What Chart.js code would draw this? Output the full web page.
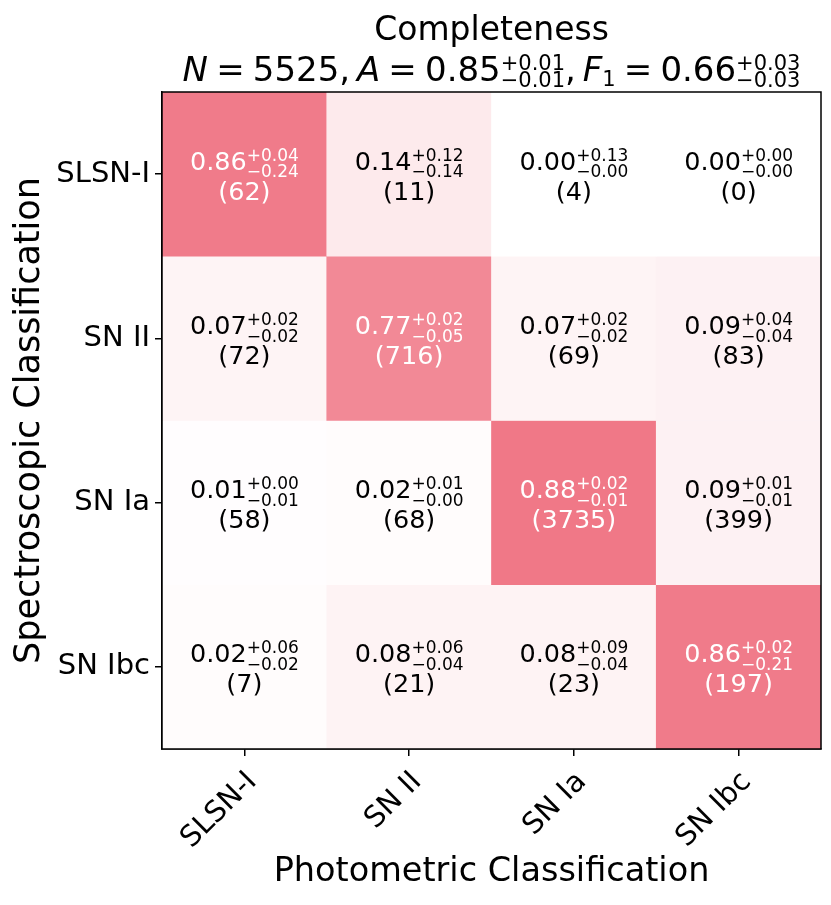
<!DOCTYPE html>
<html>
<head>
<meta charset="utf-8">
<script src="https://cdn.jsdelivr.net/npm/chart.js@4.4.0/dist/chart.umd.min.js"></script>
<style>
  html, body { margin: 0; padding: 0; background: #fff; }
  canvas { display: block; }
</style>
</head>
<body>
<canvas id="cm" width="831" height="905"></canvas>
<script>
// columns = photometric class, rows = spectroscopic class
const photLabels = ["SLSN-I", "SN II", "SN Ia", "SN Ibc"];
const specLabels = ["SLSN-I", "SN II", "SN Ia", "SN Ibc"];

const fractions = [
  [0.86, 0.14, 0.00, 0.00],
  [0.07, 0.77, 0.07, 0.09],
  [0.01, 0.02, 0.88, 0.09],
  [0.02, 0.08, 0.08, 0.86]
];
const errUp = [
  [0.04, 0.12, 0.13, 0.00],
  [0.02, 0.02, 0.02, 0.04],
  [0.00, 0.01, 0.02, 0.01],
  [0.06, 0.06, 0.09, 0.02]
];
const errLow = [
  [0.24, 0.14, 0.00, 0.00],
  [0.02, 0.05, 0.02, 0.04],
  [0.01, 0.00, 0.01, 0.01],
  [0.02, 0.04, 0.04, 0.21]
];
const counts = [
  [62, 11, 4, 0],
  [72, 716, 69, 83],
  [58, 68, 3735, 399],
  [7, 21, 23, 197]
];

const titleText = "Completeness";
const nTotal = 5525;
const accuracy = [0.85, 0.01, 0.01];   // value, +err, -err
const f1Score = [0.66, 0.03, 0.03];

const FONT = "'DejaVu Sans', sans-serif";
Chart.defaults.font.family = FONT;

function cellColor(v) {
  const hi = [238, 102, 119];
  const c = hi.map((h) => Math.round(255 + (h - 255) * v));
  return `rgb(${c[0]},${c[1]},${c[2]})`;
}

const minus = (v) => "\u2212" + v.toFixed(2);
const plus = (v) => "+" + v.toFixed(2);

// text pieces with stacked super/subscripts, centred on cx
// opts: size, script size, sup offset, sub offset (px from baseline)
function drawMath(ctx, cx, base, o, parts) {
  const font = (s, it) => (it ? "italic " : "") + s + "px " + FONT;
  let total = 0;
  const widths = parts.map((p) => {
    ctx.font = font(o.size, p.italic);
    const w = ctx.measureText(p.text).width;
    ctx.font = font(o.script, false);
    const sw = Math.max(
      p.sup ? ctx.measureText(p.sup).width : 0,
      p.sub ? ctx.measureText(p.sub).width : 0
    );
    const gap = (p.gap || 0) * o.size;
    total += w + sw + gap;
    return [w, sw, gap];
  });
  let x = cx - total / 2;
  ctx.textAlign = "left";
  ctx.textBaseline = "alphabetic";
  parts.forEach((p, i) => {
    ctx.font = font(o.size, p.italic);
    ctx.fillText(p.text, x, base);
    x += widths[i][0];
    ctx.font = font(o.script, false);
    if (p.sup) ctx.fillText(p.sup, x, base - o.supOff);
    if (p.sub) ctx.fillText(p.sub, x, base + (p.sup ? o.subOff : o.loneSub));
    x += widths[i][1] + widths[i][2];
  });
}

const cellMath = { size: 25.5, script: 17, supOff: 9, subOff: 7.7, loneSub: 5 };
const titleMath = { size: 34, script: 21, supOff: 11, subOff: 6, loneSub: 5 };

const annotations = {
  id: "annotations",
  afterDatasetsDraw(chart) {
    const ctx = chart.ctx;
    ctx.save();
    specLabels.forEach((_, r) => {
      const meta = chart.getDatasetMeta(r);
      meta.data.forEach((bar, c) => {
        const cx = bar.x;
        const cy = (bar.y + bar.base) / 2;
        ctx.fillStyle = fractions[r][c] > 0.5 ? "#fff" : "#000";
        drawMath(ctx, cx, cy - 4.4, cellMath, [
          { text: fractions[r][c].toFixed(2), sup: plus(errUp[r][c]), sub: minus(errLow[r][c]) }
        ]);
        ctx.font = cellMath.size + "px " + FONT;
        ctx.textAlign = "center";
        ctx.fillText("(" + counts[r][c] + ")", cx, cy + 25.6);
      });
    });
    const a = chart.chartArea;
    ctx.strokeStyle = "#000";
    ctx.lineWidth = 1.5;
    ctx.strokeRect(a.left, a.top, a.right - a.left, a.bottom - a.top);
    ctx.restore();
  },
  afterDraw(chart) {
    const ctx = chart.ctx;
    const a = chart.chartArea;
    const mid = (a.left + a.right) / 2;
    ctx.save();
    ctx.fillStyle = "#000";
    ctx.font = "33px " + FONT;
    ctx.textAlign = "center";
    ctx.textBaseline = "alphabetic";
    ctx.fillText(titleText, mid, 40);
    drawMath(ctx, mid, 81, titleMath, [
      { text: "N", italic: true, gap: 0.24 },
      { text: "=", gap: 0.24 },
      { text: nTotal + ",", gap: 0.2 },
      { text: "A", italic: true, gap: 0.24 },
      { text: "=", gap: 0.24 },
      { text: accuracy[0].toFixed(2), sup: plus(accuracy[1]), sub: minus(accuracy[2]) },
      { text: ",", gap: 0.2 },
      { text: "F", italic: true, sub: "1", gap: 0.24 },
      { text: "=", gap: 0.24 },
      { text: f1Score[0].toFixed(2), sup: plus(f1Score[1]), sub: minus(f1Score[2]) }
    ]);
    ctx.restore();
  }
};

const datasets = specLabels.map((name, r) => ({
  label: name,
  data: photLabels.map(() => [r - 0.5, r + 0.5]),
  backgroundColor: fractions[r].map(cellColor),
  borderWidth: 0,
  barPercentage: 1,
  categoryPercentage: 1,
  grouped: false
}));

const axisGrid = {
  display: true,
  drawOnChartArea: false,
  drawTicks: true,
  tickLength: 7,
  color: "#000",
  lineWidth: 1.5,
  offset: false
};

new Chart(document.getElementById("cm"), {
  type: "bar",
  data: { labels: photLabels, datasets: datasets },
  plugins: [annotations],
  options: {
    responsive: false,
    animation: false,
    layout: { padding: { left: 0, right: 10, top: 92, bottom: 0 } },
    plugins: {
      legend: { display: false },
      tooltip: { enabled: false }
    },
    scales: {
      x: {
        type: "category",
        offset: true,
        grid: axisGrid,
        border: { display: true, color: "#000", width: 1.5 },
        ticks: {
          color: "#000",
          font: { size: 29 },
          minRotation: 45,
          maxRotation: 45,
          autoSkip: false,
          padding: 9,
          labelOffset: 8
        },
        title: {
          display: true,
          text: "Photometric Classification",
          color: "#000",
          font: { size: 33.5 },
          padding: { top: 0, bottom: 13 }
        },
        afterFit: (s) => { s.height = 156; }
      },
      y: {
        type: "linear",
        min: -0.5,
        max: 3.5,
        reverse: true,
        afterBuildTicks: (s) => { s.ticks = specLabels.map((_, i) => ({ value: i })); },
        grid: axisGrid,
        border: { display: true, color: "#000", width: 1.5 },
        ticks: {
          color: "#000",
          font: { size: 29 },
          padding: 5,
          callback: (v) => specLabels[v]
        },
        title: {
          display: true,
          text: "Spectroscopic Classification",
          color: "#000",
          font: { size: 35 },
          padding: { top: 9, bottom: 0 }
        },
        afterFit: (s) => { s.width = 162; }
      }
    }
  }
});
</script>
</body>
</html>
